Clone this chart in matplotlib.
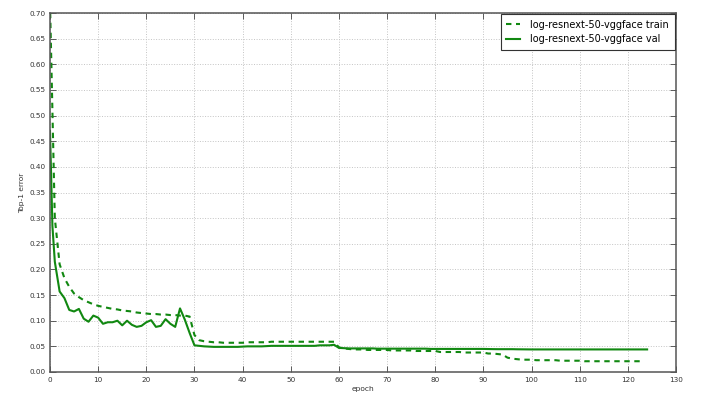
import matplotlib
matplotlib.use("Agg")
import matplotlib.pyplot as plt

# ---- data ----
train_epochs = list(range(0, 124))
train_err = [
    0.72, 0.300, 0.210, 0.183, 0.166, 0.153, 0.146, 0.140, 0.136, 0.132,
    0.129, 0.127, 0.125, 0.123, 0.122, 0.120, 0.119, 0.118, 0.116, 0.115,
    0.114, 0.113, 0.113, 0.112, 0.112, 0.111, 0.111, 0.110, 0.110, 0.108,
    0.072, 0.062, 0.060, 0.059, 0.058, 0.058, 0.057, 0.057, 0.057, 0.057,
    0.057, 0.058, 0.058, 0.058, 0.058, 0.058, 0.059, 0.059, 0.059, 0.059,
    0.059, 0.059, 0.059, 0.059, 0.059, 0.059, 0.059, 0.059, 0.059, 0.059,
    0.048, 0.046, 0.045, 0.044, 0.044, 0.044, 0.043, 0.043, 0.043, 0.043,
    0.043, 0.042, 0.042, 0.042, 0.042, 0.042, 0.041, 0.041, 0.041, 0.041,
    0.041, 0.039, 0.039, 0.039, 0.039, 0.039, 0.038, 0.038, 0.038, 0.038,
    0.038, 0.036, 0.036, 0.035, 0.034, 0.028, 0.026, 0.025, 0.024, 0.024,
    0.024, 0.023, 0.023, 0.023, 0.023, 0.023, 0.022, 0.022, 0.022, 0.022,
    0.022, 0.021, 0.021, 0.021, 0.021, 0.021, 0.021, 0.021, 0.021, 0.021,
    0.021, 0.021, 0.021, 0.021,
]

val_epochs = [0, 0.5] + list(range(1, 125))
val_err = [
    0.47, 0.285,
    0.215, 0.157, 0.144, 0.121, 0.118, 0.123, 0.104, 0.098, 0.110,
    0.106, 0.094, 0.097, 0.097, 0.100, 0.091, 0.100, 0.092, 0.088, 0.090,
    0.097, 0.101, 0.088, 0.090, 0.103, 0.094, 0.088, 0.124, 0.102, 0.076,
    0.052, 0.051, 0.050, 0.0495, 0.049, 0.049, 0.049, 0.049, 0.049, 0.049,
    0.0495, 0.050, 0.050, 0.050, 0.050, 0.0505, 0.051, 0.051, 0.051, 0.051,
    0.051, 0.051, 0.051, 0.051, 0.051, 0.051, 0.052, 0.052, 0.052, 0.053,
    0.047, 0.0465, 0.046, 0.046, 0.046, 0.046, 0.046, 0.046, 0.0455, 0.0455,
    0.0455, 0.0455, 0.0455, 0.0455, 0.0455, 0.0455, 0.0455, 0.0455, 0.0455, 0.045,
    0.045, 0.045, 0.045, 0.045, 0.045, 0.045, 0.045, 0.045, 0.045, 0.045,
    0.045, 0.0448, 0.0446, 0.0445, 0.0445, 0.0445, 0.0445, 0.0443, 0.0442, 0.0441,
    0.044, 0.044, 0.044, 0.044, 0.044, 0.044, 0.044, 0.044, 0.044, 0.044,
    0.044, 0.044, 0.044, 0.044, 0.044, 0.044, 0.044, 0.044, 0.044, 0.044,
    0.044, 0.044, 0.044, 0.044, 0.044,
]

labels = ["log-resnext-50-vggface train", "log-resnext-50-vggface val"]
xticks = list(range(0, 131, 10))
yticks = [0.00, 0.05, 0.10, 0.15, 0.20, 0.25, 0.30, 0.35, 0.40, 0.45, 0.50, 0.55, 0.60, 0.65, 0.70]

# ---- figure ----
fig = plt.figure(figsize=(7.02, 3.94), dpi=100)
ax = fig.add_axes([50 / 702, 22 / 394, 626 / 702, 359 / 394])

green = "#118811"
ax.plot(train_epochs, train_err, linestyle="--", color=green, lw=1.5,
        dashes=(2.6, 2.2), label=labels[0])
ax.plot(val_epochs, val_err, linestyle="-", color=green, lw=1.5, label=labels[1])

ax.set_xlim(0, 130)
ax.set_ylim(0, 0.70)
ax.set_xticks(xticks)
ax.set_yticks(yticks)
ax.set_yticklabels([f"{v:.2f}" for v in yticks])

ax.grid(True, linestyle=":", color="#c4c4c4", lw=0.7)
ax.set_axisbelow(True)
ax.tick_params(direction="in", top=True, right=True, length=4, width=0.6,
               labelsize=5.2, pad=3.5, colors="#444444", labelcolor="#333333")
for s in ax.spines.values():
    s.set_color("#555555")
    s.set_linewidth(1.1)

ax.set_xlabel("epoch", fontsize=5.4, color="#333333", labelpad=2)
ax.set_ylabel("Top-1 error", fontsize=5.4, color="#333333", labelpad=3)

leg = ax.legend(loc="upper right", fontsize=7, fancybox=False, framealpha=1,
                edgecolor="#333333", handlelength=1.4, handletextpad=1.1,
                borderaxespad=0.15, borderpad=0.55, labelspacing=0.45)
leg.get_frame().set_linewidth(0.8)

fig.savefig("out.png", dpi=100)
